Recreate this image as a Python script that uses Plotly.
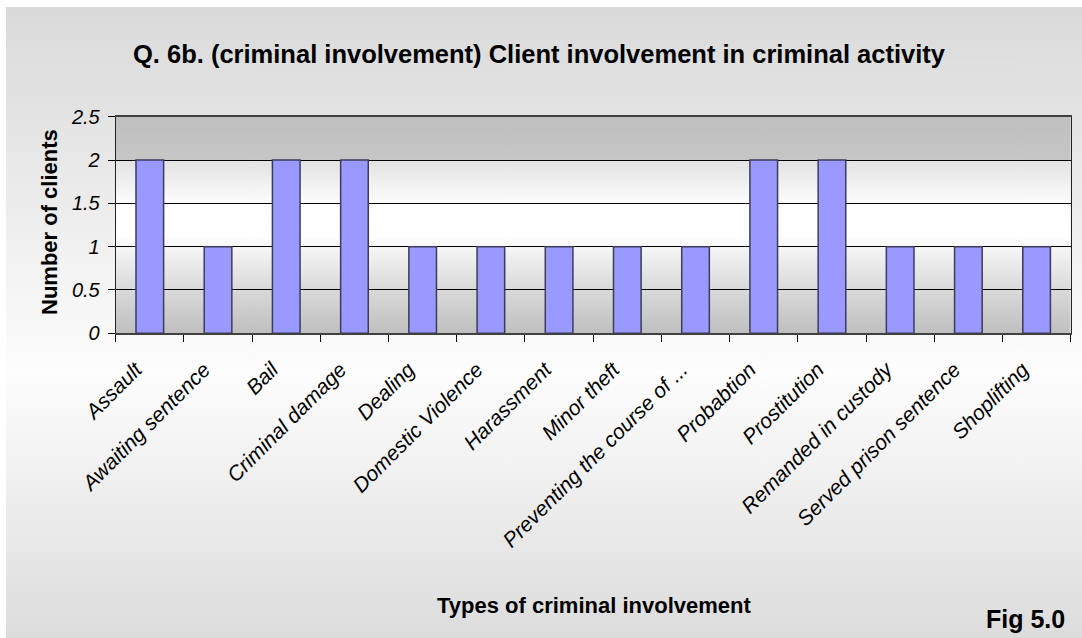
import base64
import plotly.graph_objects as go

# ---- data -------------------------------------------------------------
categories = [
    "Assault", "Awaiting sentence", "Bail", "Criminal damage", "Dealing",
    "Domestic Violence", "Harassment", "Minor theft",
    "Preventing the course of ...", "Probabtion", "Prostitution",
    "Remanded in custody", "Served prison sentence", "Shoplifting",
]
clients = [2, 1, 2, 2, 1, 1, 1, 1, 1, 2, 2, 1, 1, 1]
y_ticks = [0, 0.5, 1, 1.5, 2, 2.5]

title_text = "Q. 6b. (criminal involvement) Client involvement in criminal activity"
x_title = "Types of criminal involvement"
y_title = "Number of clients"
fig_label = "Fig 5.0"

# ---- geometry (pixels) ------------------------------------------------
W, H = 1082, 638
PLOT_L, PLOT_R = 115.7, 1070.7
PLOT_T, PLOT_B = 116.7, 333.3
FONT = "Arial, Liberation Sans, sans-serif"


def px_x(x):
    return x / W


def px_y(y):
    return 1 - y / H


def gradient_uri(stops):
    """Vertical linear gradient as an SVG data URI."""
    stop_tags = "".join(
        f"<stop offset='{o}' stop-color='{c}'/>" for o, c in stops
    )
    svg = (
        "<svg xmlns='http://www.w3.org/2000/svg' width='100' height='100' "
        "preserveAspectRatio='none'><defs><linearGradient id='g' x1='0' y1='0' "
        f"x2='0' y2='1'>{stop_tags}</linearGradient></defs>"
        "<rect width='100' height='100' fill='url(#g)'/></svg>"
    )
    return "data:image/svg+xml;base64," + base64.b64encode(svg.encode()).decode()


chart_bg = gradient_uri([
    (0.0, "#dadada"), (0.15, "#e2e2e2"), (0.58, "#fdfdfd"), (1.0, "#dcdcdc"),
])
plot_bg = gradient_uri([
    (0.0, "#bfbfbf"), (0.198, "#c6c6c6"), (0.202, "#e2e2e2"),
    (0.4, "#fdfdfd"), (0.55, "#ffffff"), (0.62, "#f3f3f3"),
    (0.8, "#d9d9d9"), (1.0, "#bfbfbf"),
])

fig = go.Figure()
fig.add_trace(go.Bar(
    x=categories,
    y=clients,
    marker=dict(color="#9999ff", line=dict(color="#3c3c5a", width=1.5)),
    hoverinfo="x+y",
))

fig.update_layout(
    width=W,
    height=H,
    autosize=False,
    margin=dict(l=0, r=0, t=0, b=0, pad=0, autoexpand=False),
    paper_bgcolor="#ffffff",
    plot_bgcolor="rgba(0,0,0,0)",
    showlegend=False,
    bargap=0.595,
    font=dict(family=FONT, color="#000000"),
    xaxis=dict(
        domain=[px_x(PLOT_L), px_x(PLOT_R)],
        automargin=False,
        type="category",
        tickson="boundaries",
        ticks="outside",
        ticklen=7,
        tickcolor="#000000",
        tickangle=-45,
        ticklabelstandoff=14,
        ticklabelshift=-14,
        tickfont=dict(family=FONT, size=21, style="italic", color="#000000"),
        showline=True,
        linecolor="#404040",
        linewidth=1.5,
        mirror=True,
        showgrid=False,
        range=[-0.5, len(categories) - 0.5],
    ),
    yaxis=dict(
        domain=[px_y(PLOT_B), px_y(PLOT_T)],
        automargin=False,
        range=[0, 2.5],
        tickvals=y_ticks,
        ticktext=[f"{v:g}" for v in y_ticks],
        ticks="outside",
        ticklen=7,
        tickcolor="#000000",
        ticklabelstandoff=4,
        tickfont=dict(family=FONT, size=20, style="italic", color="#000000"),
        showline=True,
        linecolor="#222222",
        linewidth=1,
        mirror=True,
        showgrid=True,
        gridcolor="#000000",
        gridwidth=1,
        zeroline=False,
    ),
    images=[
        dict(source=chart_bg, xref="paper", yref="paper",
             x=px_x(6), y=px_y(7), sizex=1 - px_x(6), sizey=px_y(7),
             xanchor="left", yanchor="top", sizing="stretch", layer="below"),
        dict(source=plot_bg, xref="paper", yref="paper",
             x=px_x(PLOT_L), y=px_y(PLOT_T),
             sizex=px_x(PLOT_R) - px_x(PLOT_L), sizey=px_y(PLOT_T) - px_y(PLOT_B),
             xanchor="left", yanchor="top", sizing="stretch", layer="below"),
    ],
    annotations=[
        dict(text=f"<b>{title_text}</b>", xref="paper", yref="paper",
             x=px_x(539), y=px_y(54), xanchor="center", yanchor="middle",
             showarrow=False, font=dict(family=FONT, size=25.5, color="#000000")),
        dict(text=f"<b>{y_title}</b>", xref="paper", yref="paper",
             x=px_x(50), y=px_y(222), xanchor="center", yanchor="middle",
             textangle=-90, showarrow=False,
             font=dict(family=FONT, size=22, color="#000000")),
        dict(text=f"<b>{x_title}</b>", xref="paper", yref="paper",
             x=px_x(594), y=px_y(605), xanchor="center", yanchor="middle",
             showarrow=False, font=dict(family=FONT, size=22, color="#000000")),
        dict(text=f"<b>{fig_label}</b>", xref="paper", yref="paper",
             x=px_x(1067), y=px_y(619), xanchor="right", yanchor="middle",
             showarrow=False, font=dict(family=FONT, size=25, color="#000000")),
    ],
)

fig.write_html("out.html")
